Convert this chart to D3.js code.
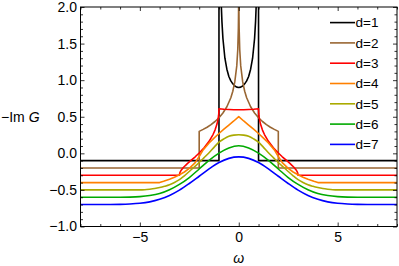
<!DOCTYPE html>
<html><head><meta charset="utf-8">
<script src="https://cdn.jsdelivr.net/npm/d3@7"></script>
<style>
body{margin:0;background:#fff}
svg{display:block}
text{font-family:"Liberation Sans",Arial,Helvetica,sans-serif}
</style></head>
<body><svg id="c" width="399" height="266"></svg>
<script>
// ---- data: -Im G (vertically shifted by -0.1*d, as in the picture) ----
const seriesNames = ["d=1","d=2","d=3","d=4","d=5","d=6","d=7"];
const seriesColors = ["#000000","#996633","#ff0000","#ff8000","#aaaa00","#00aa00","#0000ff"];

const omegaD1 = [-8,-1,-1,-0.98,-0.95,-0.9,-0.88,-0.85,-0.8,-0.7,-0.6,-0.5,-0.4,-0.3,-0.2,-0.1,0,
  0.1,0.2,0.3,0.4,0.5,0.6,0.7,0.8,0.85,0.88,0.9,0.95,0.98,1,1,8];
const valuesD1 = [-0.1,-0.1,6,4.93,3.10,2.19,2.005,1.80,1.57,1.30,1.15,1.05,0.99,0.95,0.92,0.905,0.90,
  0.905,0.92,0.95,0.99,1.05,1.15,1.30,1.57,1.80,2.005,2.19,3.10,4.93,6,-0.1,-0.1];

const omegaD2 = [-8,-2,-2,-1.8,-1.6,-1.4,-1.2,-1.0,-0.8,-0.6,-0.4,-0.3,-0.2,-0.1,-0.05,-0.02,-0.01,-0.005,0,
  0.005,0.01,0.02,0.05,0.1,0.2,0.3,0.4,0.6,0.8,1.0,1.2,1.4,1.6,1.8,2,2,8];
const valuesD2 = [-0.2,-0.2,0.300,0.327,0.357,0.393,0.435,0.486,0.551,0.636,0.760,0.849,0.976,1.195,1.416,1.707,1.928,2.148,2.6,
  2.148,1.928,1.707,1.416,1.195,0.976,0.849,0.760,0.636,0.551,0.486,0.435,0.393,0.357,0.327,0.300,-0.2,-0.2];

const omegaD3 = [-8,-3,-2.98,-2.95,-2.9,-2.8,-2.7,-2.6,-2.5,-2.4,-2.2,-2.0,-1.75,-1.5,-1.3,-1.2,-1.1,-1.05,-1.02,-1.01,-1.0,
  -0.75,-0.5,-0.25,0,0.25,0.5,0.75,
  1.0,1.01,1.02,1.05,1.1,1.2,1.3,1.5,1.75,2.0,2.2,2.4,2.5,2.6,2.7,2.8,2.9,2.95,2.98,3,8];
const valuesD3 = [-0.3,-0.3,-0.268,-0.249,-0.227,-0.1945,-0.167,-0.1415,-0.118,-0.094,-0.047,0.004,0.076,0.164,0.257,0.3175,0.40,0.460,0.514,0.542,0.609,
  0.603,0.599,0.5965,0.596,0.5965,0.599,0.603,
  0.609,0.542,0.514,0.460,0.40,0.3175,0.257,0.164,0.076,0.004,-0.047,-0.094,-0.118,-0.1415,-0.167,-0.1945,-0.227,-0.249,-0.268,-0.3,-0.3];

const omegaD4 = [-8,-4,-3.8,-3.5,-3.25,-3.0,-2.75,-2.5,-2.2,-2.0,-1.8,-1.5,-1.25,-1.0,-0.75,-0.5,-0.25,0,
  0.25,0.5,0.75,1.0,1.25,1.5,1.8,2.0,2.2,2.5,2.75,3.0,3.25,3.5,3.8,4,8];
const valuesD4 = [-0.4,-0.4,-0.383,-0.355,-0.327,-0.293,-0.255,-0.206,-0.127,-0.043,0.047,0.141,0.208,0.271,0.330,0.387,0.442,0.501,
  0.442,0.387,0.330,0.271,0.208,0.141,0.047,-0.043,-0.127,-0.206,-0.255,-0.293,-0.327,-0.355,-0.383,-0.4,-0.4];

const omegaD5 = [-8,-5,-4.75,-4.5,-4.25,-4,-3.75,-3.5,-3.25,-3,-2.75,-2.5,-2.25,-2,-1.75,-1.5,-1.25,-1,-0.75,-0.5,-0.25,0,
  0.25,0.5,0.75,1,1.25,1.5,1.75,2,2.25,2.5,2.75,3,3.25,3.5,3.75,4,4.25,4.5,4.75,5,8];
const valuesD5 = [-0.5,-0.5,-0.497,-0.490,-0.481,-0.468,-0.451,-0.430,-0.399,-0.360,-0.307,-0.248,-0.187,-0.125,-0.059,0.008,0.082,0.152,0.198,0.233,0.249,0.255,
  0.249,0.233,0.198,0.152,0.082,0.008,-0.059,-0.125,-0.187,-0.248,-0.307,-0.360,-0.399,-0.430,-0.451,-0.468,-0.481,-0.490,-0.497,-0.5,-0.5];

const omegaD6 = [-8,-6,-5.5,-5,-4.5,-4,-3.5,-3,-2.5,-2,-1.5,-1,-0.5,0,0.5,1,1.5,2,2.5,3,3.5,4,4.5,5,5.5,6,8];
const valuesD6 = [-0.6,-0.6,-0.598,-0.5915,-0.577,-0.550,-0.498,-0.425,-0.331,-0.214,-0.096,0.003,0.074,0.104,
  0.074,0.003,-0.096,-0.214,-0.331,-0.425,-0.498,-0.550,-0.577,-0.5915,-0.598,-0.6,-0.6];

const omegaD7 = [-8,-7,-6.5,-6,-5.5,-5,-4.5,-4,-3.5,-3,-2.5,-2,-1.5,-1,-0.5,0,0.5,1,1.5,2,2.5,3,3.5,4,4.5,5,5.5,6,6.5,7,8];
const valuesD7 = [-0.7,-0.7,-0.6996,-0.698,-0.693,-0.683,-0.663,-0.628,-0.576,-0.503,-0.412,-0.313,-0.213,-0.126,-0.069,-0.049,
  -0.069,-0.126,-0.213,-0.313,-0.412,-0.503,-0.576,-0.628,-0.663,-0.683,-0.693,-0.698,-0.6996,-0.7,-0.7];

const xMajorTicks = [-5,0,5];
const yMajorTicks = [-1.0,-0.5,0.0,0.5,1.0,1.5,2.0];

// ---- drawing ----
const L=80.5, R=397, T=7, B=226.5;
const x = d3.scaleLinear().domain([-8,8]).range([L,R]);
const y = d3.scaleLinear().domain([-1,2]).range([B,T]);
const svg = d3.select("#c");

svg.append("defs").append("clipPath").attr("id","clip")
  .append("rect").attr("x",L).attr("y",T).attr("width",R-L).attr("height",B-T);

const omegas = [omegaD1,omegaD2,omegaD3,omegaD4,omegaD5,omegaD6,omegaD7];
const values = [valuesD1,valuesD2,valuesD3,valuesD4,valuesD5,valuesD6,valuesD7];
const series = seriesNames.map((n,i)=>({name:n,color:seriesColors[i],
  pts: omegas[i].map((w,j)=>[w, values[i][j]]), smooth: i>=4}));

const plot = svg.append("g").attr("clip-path","url(#clip)");
series.forEach(s=>{
  const line = d3.line().x(d=>x(d[0])).y(d=>y(d[1]))
    .curve(s.smooth ? d3.curveMonotoneX : d3.curveLinear);
  plot.append("path").attr("d", line(s.pts)).attr("fill","none")
    .attr("stroke", s.color).attr("stroke-width",1.6).attr("stroke-linejoin","round");
});

// ticks
const xMinor = d3.range(-8,9,1).filter(v=>!xMajorTicks.includes(v));
const yMinor = d3.range(-10,21,1).map(v=>v/10).filter(v=>Math.abs(v*2-Math.round(v*2))>1e-6);
function styleAxis(g, fs){
  g.select(".domain").remove();
  g.selectAll("line").attr("stroke","#000").attr("stroke-width",0.8);
  g.attr("font-size",fs).attr("font-family",'"Liberation Sans",Arial,sans-serif');
  g.selectAll("text").attr("fill","#000");
}
const fs = 14;
svg.append("g").attr("transform",`translate(0,${B})`)
  .call(d3.axisBottom(x).tickValues(xMajorTicks).tickSize(-4).tickPadding(6).tickFormat(d3.format("d")))
  .call(g=>styleAxis(g,fs));
svg.append("g").attr("transform",`translate(0,${B})`)
  .call(d3.axisBottom(x).tickValues(xMinor).tickSize(-2.5).tickFormat(""))
  .call(g=>styleAxis(g,fs));
svg.append("g").attr("transform",`translate(0,${T})`)
  .call(d3.axisTop(x).tickValues(xMajorTicks).tickSize(-4).tickFormat(""))
  .call(g=>styleAxis(g,fs));
svg.append("g").attr("transform",`translate(0,${T})`)
  .call(d3.axisTop(x).tickValues(xMinor).tickSize(-2.5).tickFormat(""))
  .call(g=>styleAxis(g,fs));
svg.append("g").attr("transform",`translate(${L},0)`)
  .call(d3.axisLeft(y).tickValues(yMajorTicks).tickSize(-4).tickPadding(3.5).tickFormat(d3.format(".1f")))
  .call(g=>styleAxis(g,fs));
svg.append("g").attr("transform",`translate(${L},0)`)
  .call(d3.axisLeft(y).tickValues(yMinor).tickSize(-2.5).tickFormat(""))
  .call(g=>styleAxis(g,fs));
svg.append("g").attr("transform",`translate(${R},0)`)
  .call(d3.axisRight(y).tickValues(yMajorTicks).tickSize(-4).tickFormat(""))
  .call(g=>styleAxis(g,fs));
svg.append("g").attr("transform",`translate(${R},0)`)
  .call(d3.axisRight(y).tickValues(yMinor).tickSize(-2.5).tickFormat(""))
  .call(g=>styleAxis(g,fs));

// frame
svg.append("rect").attr("x",L).attr("y",T).attr("width",R-L).attr("height",B-T)
  .attr("fill","none").attr("stroke","#000").attr("stroke-width",1);

// axis labels
const yl = svg.append("text").attr("x",1).attr("y",(T+B)/2).attr("dy","0.35em")
  .attr("font-size",fs).attr("fill","#000");
yl.append("tspan").text("\u2212Im ");
yl.append("tspan").attr("font-style","italic").text("G");
svg.append("text").attr("x",x(0)).attr("y",263).attr("text-anchor","middle")
  .attr("font-size",fs).attr("font-style","italic").text("\u03c9");

// legend
const lg = svg.append("g");
series.forEach((s,i)=>{
  const yy = 22.6 + 20.3*i;
  lg.append("line").attr("x1",330).attr("x2",355).attr("y1",yy).attr("y2",yy)
    .attr("stroke",s.color).attr("stroke-width",1.6);
  lg.append("text").attr("x",355.5).attr("y",yy).attr("dy","0.35em")
    .attr("font-size",13.5).attr("fill","#000").text(s.name);
});
</script></body></html>
